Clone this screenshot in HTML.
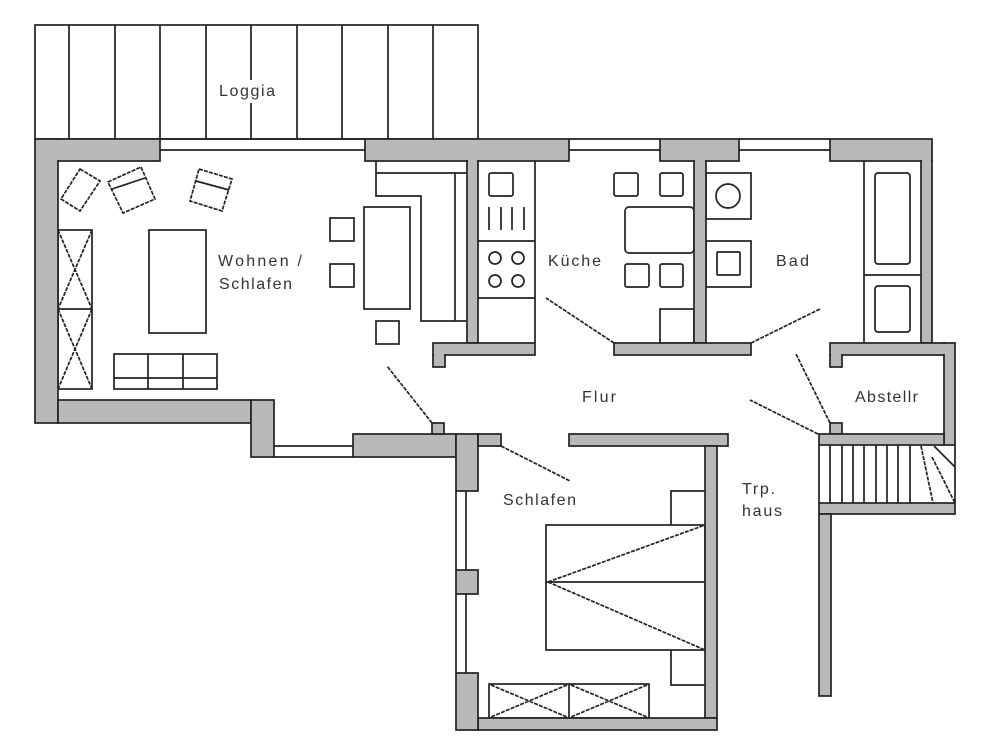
<!DOCTYPE html>
<html><head><meta charset="utf-8"><style>
html,body{margin:0;padding:0;background:#fff}
svg{display:block}
.w{fill:#b9b9b9;stroke:#222;stroke-width:1.7}
.p{fill:#b9b9b9;stroke:none}
.l{fill:none;stroke:#222;stroke-width:1.7}
.d{fill:none;stroke:#222;stroke-width:1.7;stroke-dasharray:4 1.2}
text{font-family:"Liberation Sans",sans-serif;font-size:16px;fill:#333}
</style></head><body>
<svg width="1000" height="750" viewBox="0 0 1000 750" xmlns="http://www.w3.org/2000/svg">
<rect width="1000" height="750" fill="#fff"/>
<!-- Loggia -->
<rect class="l" x="35" y="25" width="443" height="114"/>
<path class="l" d="M69 25V139M115 25V139M160 25V139M206 25V139M251 25V139M297 25V139M342 25V139M388 25V139M433 25V139"/>
<rect x="218" y="80" width="59" height="23" fill="#fff"/>
<!-- Windows -->
<path class="l" d="M160 139H365M160 150H365M569 139H660M569 150H660M739 139H830M739 150H830M273 446H353M273 457H353"/>
<path class="l" d="M456 491V570M466 491V570M456 594V673M466 594V673"/>
<!-- Furniture: living -->
<polygon class="d" points="80,169 100,181 80,211 61,199"/>
<polygon class="d" points="108,182 141,167 155,199 123,213"/>
<path class="l" d="M112 189L145 178"/>
<polygon class="d" points="199,169 232,179 222,211 190,201"/>
<path class="l" d="M196 181L229 190"/>
<rect class="l" x="58" y="230" width="34" height="159"/>
<path class="l" d="M58 309H92"/>
<path class="d" d="M58 230L92 309M92 230L58 309M58 309L92 389M92 309L58 389"/>
<rect class="l" x="149" y="230" width="57" height="103"/>
<rect class="l" x="114" y="354" width="103" height="35"/>
<path class="l" d="M114 378H217M148 354V389M183 354V389"/>
<!-- Counter & dining -->
<path class="l" d="M376 161V196H421V321H466M376 173H466M455 173V321"/>
<rect class="l" x="364" y="207" width="46" height="102"/>
<rect class="l" x="330" y="218" width="24" height="23"/>
<rect class="l" x="330" y="264" width="24" height="23"/>
<rect class="l" x="376" y="321" width="23" height="23"/>
<!-- Kitchen -->
<path class="l" d="M535 161V343M478 241H535M478 298H535"/>
<rect class="l" x="489" y="173" width="24" height="23" rx="2"/>
<path class="l" d="M489 207V230M501 207V230M512 207V230M524 207V230"/>
<circle class="l" cx="495" cy="258" r="6"/><circle class="l" cx="518" cy="258" r="6"/>
<circle class="l" cx="495" cy="281" r="6"/><circle class="l" cx="518" cy="281" r="6"/>
<rect class="l" x="614" y="173" width="24" height="23" rx="2"/>
<rect class="l" x="660" y="173" width="23" height="23" rx="2"/>
<rect class="l" x="625" y="207" width="69" height="46" rx="4"/>
<rect class="l" x="625" y="264" width="24" height="23" rx="2"/>
<rect class="l" x="660" y="264" width="23" height="23" rx="2"/>
<rect class="l" x="660" y="309" width="34" height="34"/>
<!-- Bath -->
<rect class="l" x="706" y="173" width="45" height="46"/>
<circle class="l" cx="728" cy="196" r="12"/>
<rect class="l" x="706" y="241" width="45" height="46"/>
<rect class="l" x="717" y="252" width="23" height="23" rx="1"/>
<path class="l" d="M864 161V343M864 275H921"/>
<rect class="l" x="875" y="173" width="35" height="91" rx="3"/>
<rect class="l" x="875" y="286" width="35" height="46" rx="3"/>
<!-- Door swings -->
<path class="d" d="M614 343L546 298M751 343L820 309M830 423L796 354M818 434L750 400M432 423L387 366M501 446L570 481"/>
<!-- Stairs -->
<path class="l" d="M819 445V503M955 445V503M830 445V503M842 445V503M853 445V503M864 445V503M876 445V503M887 445V503M898 445V503M910 445V503"/>
<path class="d" d="M921 446L933 503M932 457L955 503"/>
<path class="l" d="M934 446L955 467"/>
<!-- Bedroom furniture -->
<rect class="l" x="546" y="525" width="159" height="125"/>
<path class="l" d="M546 582H705"/>
<path class="d" d="M548 582L705 525M548 582L705 650"/>
<path class="l" d="M705 491H671V525M705 685H671V650"/>
<rect class="l" x="489" y="684" width="160" height="34"/>
<path class="l" d="M569 684V718"/>
<path class="d" d="M491 685L567 717M567 685L491 717M571 685L647 717M647 685L571 717"/>
<!-- Walls -->
<rect class="w" x="58" y="139" width="102" height="22"/>
<rect class="w" x="35" y="139" width="23" height="284"/>
<rect class="w" x="365" y="139" width="204" height="22"/>
<rect class="w" x="660" y="139" width="79" height="22"/>
<rect class="w" x="830" y="139" width="102" height="22"/>
<rect class="w" x="921" y="161" width="11" height="182"/>
<rect class="w" x="467" y="161" width="11" height="182"/>
<rect class="w" x="694" y="161" width="12" height="182"/>
<rect class="w" x="433" y="355" width="12" height="12"/>
<rect class="w" x="433" y="343" width="102" height="12"/>
<rect class="w" x="614" y="343" width="137" height="12"/>
<rect class="w" x="830" y="355" width="12" height="12"/>
<rect class="w" x="830" y="343" width="114" height="12"/>
<rect class="w" x="944" y="343" width="11" height="102"/>
<rect class="w" x="830" y="423" width="12" height="11"/>
<rect class="w" x="819" y="434" width="125" height="11"/>
<rect class="w" x="819" y="503" width="136" height="11"/>
<rect class="w" x="819" y="514" width="12" height="182"/>
<rect class="w" x="58" y="400" width="193" height="23"/>
<rect class="w" x="251" y="400" width="23" height="57"/>
<rect class="w" x="353" y="434" width="103" height="23"/>
<rect class="w" x="432" y="423" width="12" height="11"/>
<rect class="w" x="456" y="434" width="22" height="57"/>
<rect class="w" x="478" y="434" width="23" height="12"/>
<rect class="w" x="569" y="434" width="159" height="12"/>
<rect class="w" x="705" y="446" width="12" height="272"/>
<rect class="w" x="478" y="718" width="239" height="12"/>
<rect class="w" x="456" y="570" width="22" height="24"/>
<rect class="w" x="456" y="673" width="22" height="57"/>
<!-- Merge wall junctions -->
<rect class="p" x="57" y="140" width="2" height="20"/>
<rect class="p" x="468" y="160" width="9" height="2"/>
<rect class="p" x="695" y="160" width="10" height="2"/>
<rect class="p" x="922" y="160" width="9" height="2"/>
<rect class="p" x="434" y="354" width="10" height="2"/>
<rect class="p" x="831" y="354" width="10" height="2"/>
<rect class="p" x="943" y="344" width="2" height="10"/>
<!-- Labels -->
<text x="219" y="96" textLength="56" lengthAdjust="spacing">Loggia</text>
<text x="218" y="266" textLength="84" lengthAdjust="spacing">Wohnen /</text>
<text x="219" y="289" textLength="73" lengthAdjust="spacing">Schlafen</text>
<text x="548" y="266" textLength="53" lengthAdjust="spacing">Küche</text>
<text x="776" y="266" textLength="33" lengthAdjust="spacing">Bad</text>
<text x="582" y="402" textLength="34" lengthAdjust="spacing">Flur</text>
<text x="855" y="402" textLength="63" lengthAdjust="spacing">Abstellr</text>
<text x="742" y="494" textLength="33" lengthAdjust="spacing">Trp.</text>
<text x="742" y="516" textLength="40" lengthAdjust="spacing">haus</text>
<text x="503" y="505" textLength="73" lengthAdjust="spacing">Schlafen</text>
</svg>
</body></html>
